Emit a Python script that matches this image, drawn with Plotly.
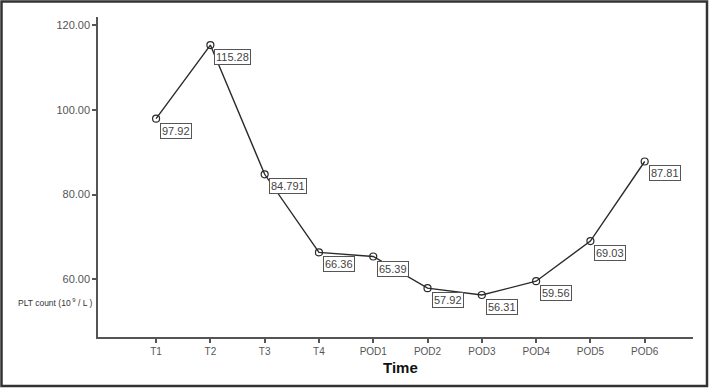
import plotly.graph_objects as go

categories = ["T1", "T2", "T3", "T4", "POD1", "POD2", "POD3", "POD4", "POD5", "POD6"]
values = [97.92, 115.28, 84.791, 66.36, 65.39, 57.92, 56.31, 59.56, 69.03, 87.81]
labels = ["97.92", "115.28", "84.791", "66.36", "65.39", "57.92", "56.31", "59.56", "69.03", "87.81"]
y_ticks = [60, 80, 100, 120]

W, H = 709, 388
L, R, T, B = 98, 16, 17, 51
pw, ph = W - L - R, H - T - B

fig = go.Figure()
fig.add_trace(go.Scatter(
    x=list(range(len(categories))), y=values, mode="lines+markers",
    line=dict(color="#2a2a2a", width=1.4),
    marker=dict(symbol="circle-open", size=7, color="#2a2a2a", line=dict(width=1.2)),
    hoverinfo="skip", showlegend=False,
))

for i, (v, lab) in enumerate(zip(values, labels)):
    fig.add_annotation(
        x=i, y=v, text=lab, showarrow=False, xanchor="left", yanchor="top",
        xshift=4, yshift=-4,
        font=dict(family="Arial, Liberation Sans", size=11, color="#444444"),
        bordercolor="#555555", borderwidth=1, borderpad=1, bgcolor="white",
    )

fig.add_annotation(
    xref="paper", yref="paper", x=(16 - L) / pw, y=(H - B - 302) / ph,
    text="PLT count (10<sup> 9</sup> / L )", showarrow=False, xanchor="left", yanchor="middle",
    font=dict(family="Arial, Liberation Sans", size=8.5, color="#333333"),
)
fig.add_annotation(
    xref="paper", yref="paper", x=(400 - L) / pw, y=(H - B - 367) / ph,
    text="<b>Time</b>", showarrow=False, xanchor="center", yanchor="middle",
    font=dict(family="Arial, Liberation Sans", size=15, color="#111111"),
)

# outer frame
fig.add_shape(
    type="rect", xref="paper", yref="paper",
    x0=(1.5 - L) / pw, x1=(707 - L) / pw,
    y0=(H - B - 386) / ph, y1=(H - B - 1.5) / ph,
    line=dict(color="#333333", width=2.5), fillcolor="rgba(0,0,0,0)", layer="above",
)

fig.update_layout(
    width=W, height=H, autosize=False,
    margin=dict(l=L, r=R, t=T, b=B, pad=0),
    paper_bgcolor="white", plot_bgcolor="white",
    xaxis=dict(
        range=[-1.07, 9.89], tickmode="array", tickvals=list(range(len(categories))),
        ticktext=categories, showgrid=False, zeroline=False,
        showline=True, linecolor="#555555", linewidth=1.5,
        ticks="outside", ticklen=4, tickcolor="#555555", tickwidth=1.5,
        tickfont=dict(family="Arial, Liberation Sans", size=10, color="#555555"),
        fixedrange=True,
    ),
    yaxis=dict(
        range=[46.4, 121.9], tickmode="array", tickvals=y_ticks,
        ticktext=[f"{t:.2f}" for t in y_ticks], showgrid=False, zeroline=False,
        showline=True, linecolor="#555555", linewidth=1.5,
        ticks="outside", ticklen=4, tickcolor="#555555", tickwidth=1.5,
        tickfont=dict(family="Arial, Liberation Sans", size=11, color="#555555"),
        fixedrange=True,
    ),
)

fig.write_html("out.html")
